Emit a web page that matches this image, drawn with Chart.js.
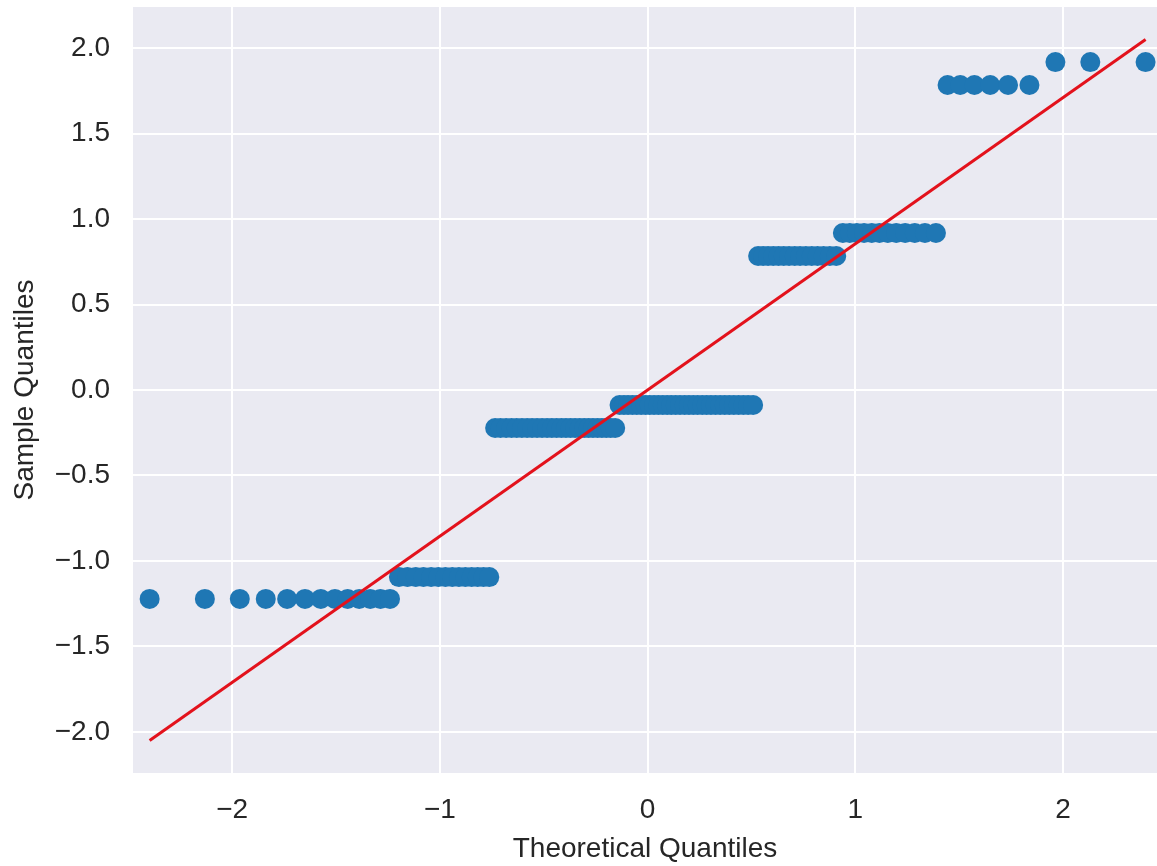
<!DOCTYPE html>
<html>
<head>
<meta charset="utf-8">
<script src="https://cdn.jsdelivr.net/npm/chart.js@4.4.1/dist/chart.umd.min.js"></script>
<style>
  html, body { margin: 0; padding: 0; background: #ffffff; }
  #c { display: block; }
</style>
</head>
<body>
<canvas id="c" width="1157" height="866"></canvas>
<script>
// Theoretical quantiles (x)
const theoreticalQuantiles = [
  -2.397,-2.131,-1.963,-1.838,-1.735,-1.649,-1.573,-1.505,-1.444,-1.388,
  -1.335,-1.286,-1.240,-1.197,-1.156,-1.116,-1.079,-1.042,-1.007,-0.973,
  -0.940,-0.908,-0.877,-0.847,-0.818,-0.790,-0.762,-0.734,-0.708,-0.681,
  -0.655,-0.630,-0.605,-0.580,-0.556,-0.532,-0.508,-0.484,-0.461,-0.438,
  -0.415,-0.393,-0.371,-0.349,-0.327,-0.305,-0.284,-0.263,-0.241,-0.220,
  -0.199,-0.178,-0.156,-0.135,-0.114,-0.094,-0.073,-0.052,-0.031,-0.010,
   0.010, 0.031, 0.052, 0.073, 0.094, 0.114, 0.135, 0.156, 0.178, 0.199,
   0.220, 0.241, 0.263, 0.284, 0.305, 0.327, 0.349, 0.371, 0.393, 0.415,
   0.438, 0.461, 0.484, 0.508, 0.532, 0.556, 0.580, 0.605, 0.630, 0.655,
   0.681, 0.708, 0.734, 0.762, 0.790, 0.818, 0.847, 0.877, 0.908, 0.940,
   0.973, 1.007, 1.042, 1.079, 1.116, 1.156, 1.197, 1.240, 1.286, 1.335,
   1.388, 1.444, 1.505, 1.573, 1.649, 1.735, 1.838, 1.963, 2.131, 2.397
];

// Sample quantiles (y)
const sampleQuantiles = [
  -1.222,-1.222,-1.222,-1.222,-1.222,-1.222,-1.222,-1.222,-1.222,-1.222,
  -1.222,-1.222,-1.222,-1.094,-1.094,-1.094,-1.094,-1.094,-1.094,-1.094,
  -1.094,-1.094,-1.094,-1.094,-1.094,-1.094,-1.094,-0.222,-0.222,-0.222,
  -0.222,-0.222,-0.222,-0.222,-0.222,-0.222,-0.222,-0.222,-0.222,-0.222,
  -0.222,-0.222,-0.222,-0.222,-0.222,-0.222,-0.222,-0.222,-0.222,-0.222,
  -0.222,-0.222,-0.222,-0.088,-0.088,-0.088,-0.088,-0.088,-0.088,-0.088,
  -0.088,-0.088,-0.088,-0.088,-0.088,-0.088,-0.088,-0.088,-0.088,-0.088,
  -0.088,-0.088,-0.088,-0.088,-0.088,-0.088,-0.088,-0.088,-0.088,-0.088,
  -0.088,-0.088,-0.088,-0.088, 0.784, 0.784, 0.784, 0.784, 0.784, 0.784,
   0.784, 0.784, 0.784, 0.784, 0.784, 0.784, 0.784, 0.784, 0.784, 0.918,
   0.918, 0.918, 0.918, 0.918, 0.918, 0.918, 0.918, 0.918, 0.918, 0.918,
   0.918, 1.784, 1.784, 1.784, 1.784, 1.784, 1.784, 1.918, 1.918, 1.918
];

// Reference line end points
const lineX = [-2.397, 2.397];
const lineY = [-2.05, 2.05];

// Tick values
const xTickValues = [-2, -1, 0, 1, 2];
const yTickValues = [-2.0, -1.5, -1.0, -0.5, 0.0, 0.5, 1.0, 1.5, 2.0];

const xTitle = 'Theoretical Quantiles';
const yTitle = 'Sample Quantiles';

const FONT = "'Liberation Sans', Arial, 'DejaVu Sans', sans-serif";
const TEXT = '#262626';

const points = theoreticalQuantiles.map((x, i) => ({ x: x, y: sampleQuantiles[i] }));
const linePts = lineX.map((x, i) => ({ x: x, y: lineY[i] }));

function fmtMinus(s) { return String(s).replace('-', '\u2212'); }

function zeroPad(scale) {
  scale.paddingTop = 0;
  scale.paddingBottom = 0;
  scale.paddingLeft = 0;
  scale.paddingRight = 0;
}

const bgPlugin = {
  id: 'plotbg',
  beforeDraw(chart) {
    const { ctx, chartArea } = chart;
    ctx.save();
    ctx.fillStyle = '#eaeaf2';
    ctx.fillRect(chartArea.left, chartArea.top, chartArea.right - chartArea.left, chartArea.bottom - chartArea.top);
    ctx.restore();
  }
};

new Chart(document.getElementById('c'), {
  type: 'scatter',
  data: {
    datasets: [
      {
        label: 'line',
        data: linePts,
        showLine: true,
        borderColor: '#e3121c',
        borderWidth: 3,
        pointRadius: 0,
        fill: false,
        order: 0
      },
      {
        label: 'points',
        data: points,
        backgroundColor: '#1f77b4',
        borderWidth: 0,
        pointRadius: 10,
        order: 1
      }
    ]
  },
  plugins: [bgPlugin],
  options: {
    responsive: false,
    animation: false,
    devicePixelRatio: 1,
    layout: { autoPadding: false, padding: { left: 0, top: 7, right: 0, bottom: 0 } },
    plugins: { legend: { display: false }, tooltip: { enabled: false } },
    scales: {
      x: {
        type: 'linear',
        min: -2.477,
        max: 2.452,
        afterFit(scale) { scale.height = 93; zeroPad(scale); },
        afterBuildTicks(scale) { scale.ticks = xTickValues.map(v => ({ value: v })); },
        border: { display: false },
        grid: { color: '#ffffff', lineWidth: 2, drawTicks: false },
        ticks: {
          padding: 20,
          color: TEXT,
          font: { family: FONT, size: 28 },
          callback: (v) => fmtMinus(v.toFixed(0))
        },
        title: {
          display: true,
          text: xTitle,
          color: TEXT,
          font: { family: FONT, size: 28 },
          padding: { top: 0, bottom: 0 }
        }
      },
      y: {
        type: 'linear',
        min: -2.24,
        max: 2.24,
        afterFit(scale) { scale.width = 133; zeroPad(scale); },
        afterBuildTicks(scale) { scale.ticks = yTickValues.map(v => ({ value: v })); },
        border: { display: false },
        grid: { color: '#ffffff', lineWidth: 2, drawTicks: false },
        ticks: {
          padding: 23,
          color: TEXT,
          font: { family: FONT, size: 28 },
          callback: (v) => fmtMinus(v.toFixed(1))
        },
        title: {
          display: true,
          text: yTitle,
          color: TEXT,
          font: { family: FONT, size: 28 },
          padding: { top: 8, bottom: 0 }
        }
      }
    }
  }
});
</script>
</body>
</html>
